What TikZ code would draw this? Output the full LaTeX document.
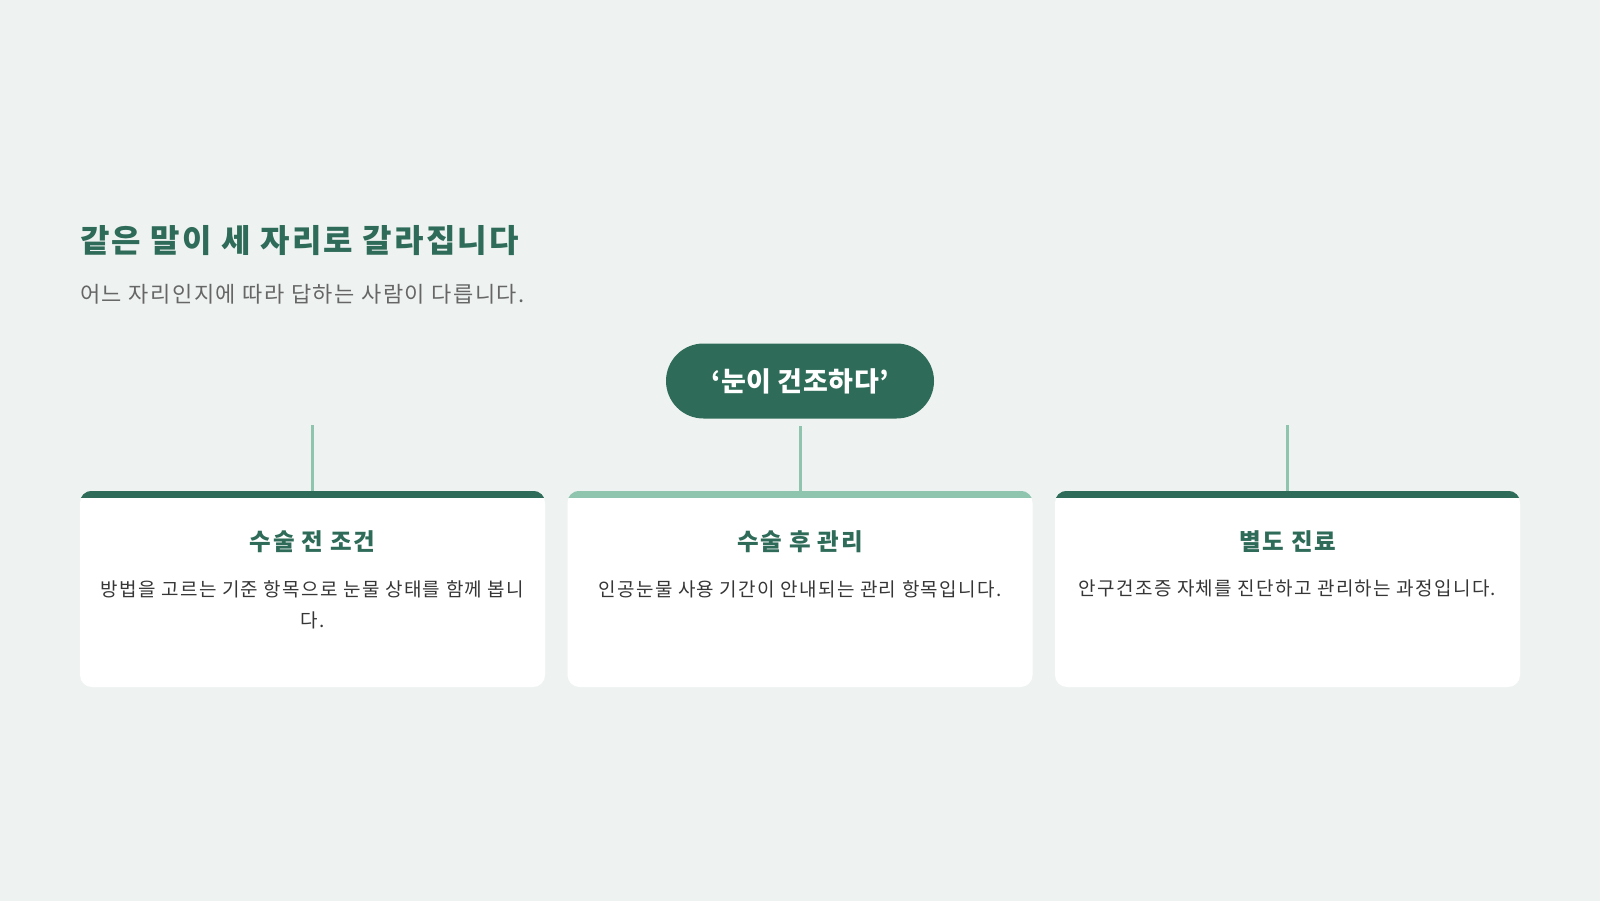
\documentclass[tikz,border=0pt]{standalone}
\usepackage{fontspec}
\setmainfont{Noto Sans CJK KR}[LetterSpace=7]
\newfontfamily\hubfont{Noto Sans CJK KR}[LetterSpace=2]
\definecolor{bg}{HTML}{EEF3F1}
\definecolor{dkgreen}{HTML}{2E6B58}
\definecolor{ltgreen}{HTML}{8FC4AF}
\definecolor{subgray}{HTML}{666666}
\definecolor{bodygray}{HTML}{363636}
\tikzset{
  titletext/.style={anchor=west, inner sep=0pt, text=dkgreen, font=\fontsize{32}{38}\selectfont\bfseries},
  subtext/.style={anchor=west, inner sep=0pt, text=subgray, font=\fontsize{22}{26}\selectfont},
  hubbox/.style={rounded rectangle, fill=dkgreen, text=white, minimum width=268pt, minimum height=75pt, font=\hubfont\fontsize{27}{32}\selectfont\bfseries, inner sep=0pt},
  cardbox/.style={fill=white, rounded corners=12pt, minimum width=465pt, minimum height=196pt, inner sep=0pt},
  cardtitle/.style={inner sep=0pt, text=dkgreen, font=\fontsize{23.5}{28}\selectfont\bfseries},
  cardbody/.style={inner sep=0pt, text=bodygray, align=center, font=\fontsize{19}{31}\selectfont},
  stem/.style={draw=ltgreen, line width=3pt},
}
\usetikzlibrary{shapes.misc}
\begin{document}
\begin{tikzpicture}[x=1pt,y=-1pt]
\fill[bg] (0,0) rectangle (1600,901);
\useasboundingbox (0,0) rectangle (1600,901);

\node[titletext] (title) at (80,241) {같은 말이 세 자리로 갈라집니다};
\node[subtext] (subtitle) at (80,294) {어느 자리인지에 따라 답하는 사람이 다릅니다.};

\node[hubbox] (hub) at (800,381) {‘눈이 건조하다’};

\node[cardbox] (c1) at (312.5,589) {};
\node[cardbox] (c2) at (800,589) {};
\node[cardbox] (c3) at (1287.5,589) {};

\foreach \c/\col in {c1/dkgreen, c2/ltgreen, c3/dkgreen}{
  \begin{scope}
    \clip[rounded corners=12pt] (\c.south west) rectangle (\c.north east);
    \fill[\col] (\c.north west) rectangle ([yshift=-7pt]\c.north east);
  \end{scope}
}

\coordinate (t1) at (312.5,425);
\coordinate (t3) at (1287.5,425);
\draw[stem] (t1) -- (c1.north);
\draw[stem] ([yshift=-7pt]hub.south) -- (c2.north);
\draw[stem] (t3) -- (c3.north);

\node[cardtitle] (h1) at (312.5,542) {수술 전 조건};
\node[cardtitle] (h2) at (800,542) {수술 후 관리};
\node[cardtitle] (h3) at (1287.5,542) {별도 진료};

\node[cardbody, anchor=north] (b1) at (312.5,580) {방법을 고르는 기준 항목으로 눈물 상태를 함께 봅니\\다.};
\node[cardbody, anchor=north] (b2) at (800,580) {인공눈물 사용 기간이 안내되는 관리 항목입니다.};
\node[cardbody, anchor=north] (b3) at (1287.5,580) {안구건조증 자체를 진단하고 관리하는 과정입니다.};
\end{tikzpicture}
\end{document}
